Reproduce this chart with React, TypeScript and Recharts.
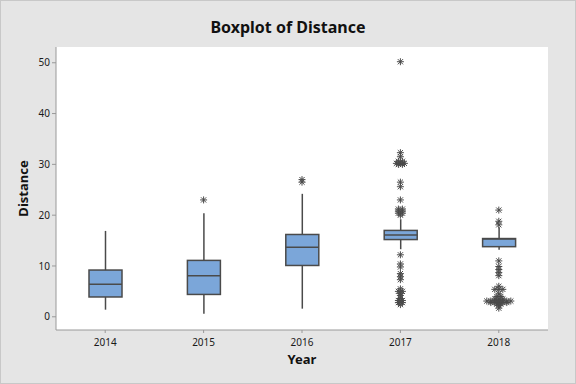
import { Bar, CartesianGrid, ComposedChart, Label, Scatter, XAxis, YAxis } from "recharts";

const years = ["2014", "2015", "2016", "2017", "2018"];
const whiskerLow = [1.4, 0.6, 1.6, 13.3, 13.2];
const q1 = [3.9, 4.4, 10.1, 15.2, 13.8];
const median = [6.4, 8.1, 13.7, 16.1, 15.3];
const q3 = [9.2, 11.1, 16.2, 17.0, 15.4];
const whiskerHigh = [16.9, 20.4, 24.2, 19.2, 17.6];

// outliers, ties are listed once per observation
const outliers2014: number[] = [];
const outliers2015 = [23.0];
const outliers2016 = [27.0, 26.5];
const outliers2017 = [
  50.2, 32.3, 31.5, 30.6, 30.6, 30.2, 30.2, 30.2, 30.0, 30.0, 26.5, 25.6, 23.0,
  21.2, 21.2, 20.8, 20.8, 20.4, 20.4, 20.0, 12.2, 10.4, 9.8, 8.5, 7.9, 7.3,
  5.5, 5.0, 5.0, 4.6, 4.2, 3.6, 3.2, 3.2, 2.8, 2.8, 2.4,
];
const outliers2018 = [
  21.0, 18.8, 18.1, 11.0, 9.9, 9.3, 8.7, 8.1, 6.0, 5.4, 5.4, 5.4, 4.5, 4.0,
  4.0, 3.5, 3.5, 3.5, 3.1, 3.1, 3.1, 3.1, 3.1, 3.1, 3.1, 2.8, 2.8, 2.8, 2.8,
  2.8, 2.5, 2.5, 2.2, 1.7,
];
const outlierSets = [outliers2014, outliers2015, outliers2016, outliers2017, outliers2018];

const yTicks = [0, 10, 20, 30, 40, 50];

const boxes = years.map((year, i) => ({
  pos: i,
  year,
  low: whiskerLow[i],
  q1: q1[i],
  med: median[i],
  q3: q3[i],
  high: whiskerHigh[i],
}));

const outlierPoints = outlierSets.flatMap((set, i) => {
  const counts = new Map<number, number>();
  set.forEach((v) => counts.set(v, (counts.get(v) || 0) + 1));
  return Array.from(counts.entries()).map(([value, n]) => ({ pos: i, value, n }));
});

const INK = "#4a4a4a";
const FONT = "'Segoe UI', 'Noto Sans', sans-serif";

function BoxShape(props: any) {
  const { x, y, width, height, payload } = props;
  const top = Math.min(y, y + height);
  const bottom = Math.max(y, y + height);
  const span = payload.high - payload.low;
  const toY = (v: number) => top + ((payload.high - v) / span) * (bottom - top);
  const cx = x + width / 2;
  const yq3 = toY(payload.q3);
  const yq1 = toY(payload.q1);
  const ymed = toY(payload.med);
  return (
    <g>
      <line x1={cx} x2={cx} y1={top} y2={bottom} stroke={INK} strokeWidth={1.5} />
      <rect x={x} y={yq3} width={width} height={yq1 - yq3} fill="#7ba6d9" stroke={INK} strokeWidth={1.5} />
      <line x1={x} x2={x + width} y1={ymed} y2={ymed} stroke={INK} strokeWidth={1.5} />
    </g>
  );
}

function Star({ cx, cy }: { cx: number; cy: number }) {
  const r = 3.5;
  const d = 2.6;
  return (
    <g stroke={INK} strokeWidth={1}>
      <line x1={cx} x2={cx} y1={cy - r} y2={cy + r} />
      <line x1={cx - r} x2={cx + r} y1={cy} y2={cy} />
      <line x1={cx - d} x2={cx + d} y1={cy - d} y2={cy + d} />
      <line x1={cx - d} x2={cx + d} y1={cy + d} y2={cy - d} />
    </g>
  );
}

function OutlierShape(props: any) {
  const { cx, cy, payload } = props;
  const n = payload.n;
  const step = 4;
  const start = cx - ((n - 1) * step) / 2;
  return (
    <g>
      {Array.from({ length: n }, (_, k) => (
        <Star key={k} cx={start + k * step} cy={cy} />
      ))}
    </g>
  );
}

export default function App() {
  return (
    <div
      style={{
        position: "absolute",
        left: 0,
        top: 0,
        width: 576,
        height: 384,
        background: "#e5e5e5",
        boxShadow: "inset 0 0 0 1px #c8c8c8",
        fontFamily: FONT,
      }}
    >
      <div
        style={{
          position: "absolute",
          left: 0,
          top: 14,
          width: 576,
          lineHeight: "26px",
          textAlign: "center",
          fontSize: 16,
          fontWeight: 700,
          color: "#111",
        }}
      >
        Boxplot of Distance
      </div>
      <div style={{ position: "absolute", left: 0, top: 0 }}>
        <ComposedChart
          width={576}
          height={384}
          data={boxes}
          margin={{ top: 47, right: 28, bottom: 14, left: 8 }}
        >
          <CartesianGrid fill="#ffffff" horizontal={false} vertical={false} />
          <XAxis
            dataKey="pos"
            type="number"
            domain={[-0.5, 4.5]}
            ticks={[0, 1, 2, 3, 4]}
            tickFormatter={(v: number) => years[v]}
            height={40}
            tickSize={3}
            tickMargin={6}
            stroke="#999"
            tick={{ fontSize: 10, fill: "#1a1a1a", fontFamily: FONT }}
            allowDataOverflow
          >
            <Label
              value="Year"
              position="insideBottom"
              offset={6}
              style={{ fontSize: 13, fontWeight: 700, fill: "#111", fontFamily: FONT }}
            />
          </XAxis>
          <XAxis xAxisId="top" orientation="top" height={0} tick={false} tickLine={false} stroke="#999" />
          <YAxis
            type="number"
            domain={[-2.6, 53.1]}
            ticks={yTicks}
            width={48}
            tickSize={4}
            tickMargin={2}
            stroke="#999"
            tick={{ fontSize: 10, fill: "#1a1a1a", fontFamily: FONT }}
            allowDataOverflow
          >
            <Label
              value="Distance"
              angle={-90}
              position="insideLeft"
              offset={15}
              style={{ textAnchor: "middle", fontSize: 13, fontWeight: 700, fill: "#111", fontFamily: FONT }}
            />
          </YAxis>
          <YAxis yAxisId="right" orientation="right" width={0} tick={false} tickLine={false} stroke="#999" />
          <Bar
            dataKey={(d: any) => [d.low, d.high]}
            barSize={33}
            shape={BoxShape}
            isAnimationActive={false}
          />
          <Scatter
            data={outlierPoints}
            dataKey="value"
            shape={OutlierShape}
            isAnimationActive={false}
          />
        </ComposedChart>
      </div>
    </div>
  );
}
